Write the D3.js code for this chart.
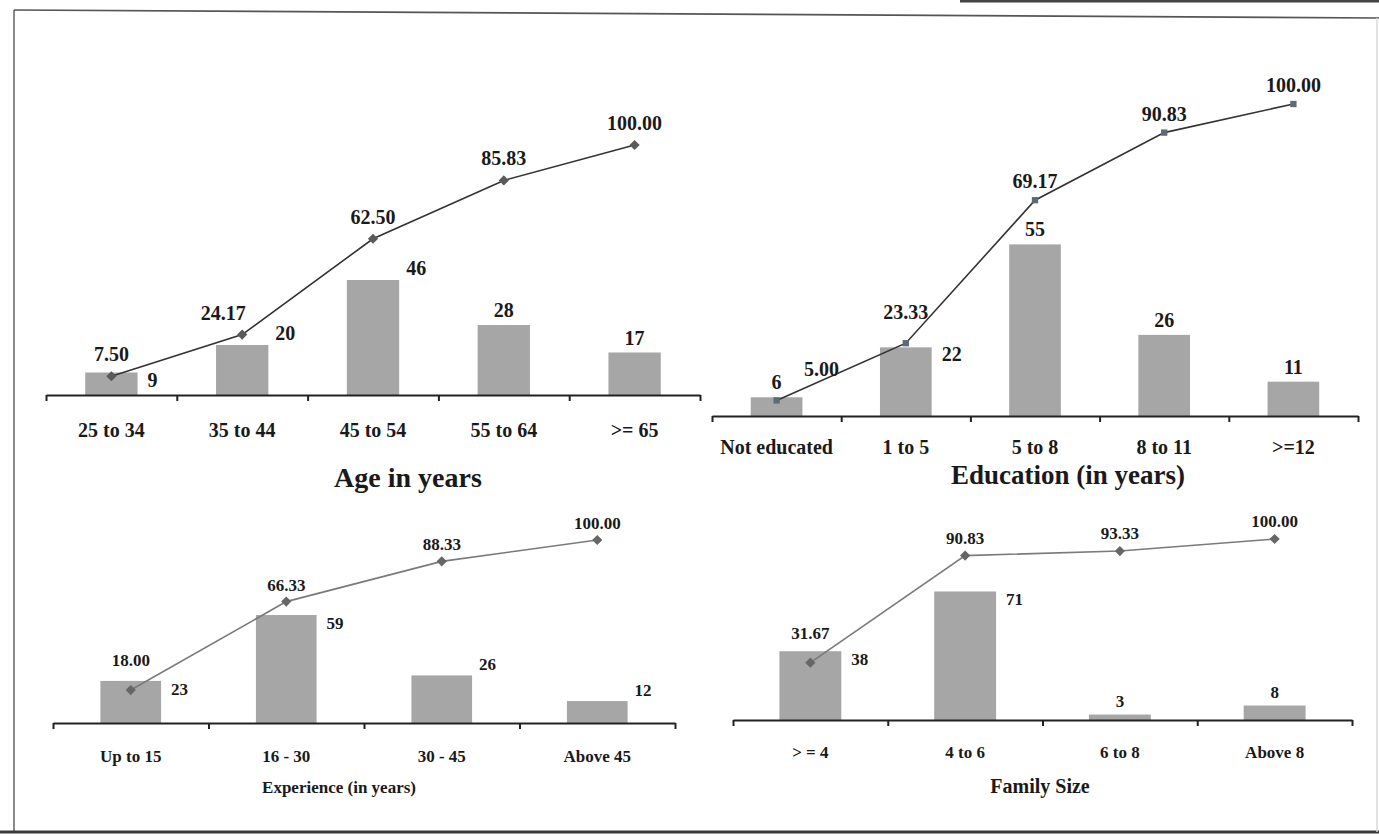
<!DOCTYPE html>
<html>
<head>
<meta charset="utf-8">
<script src="https://cdn.jsdelivr.net/npm/d3@7"></script>
<style>
  html, body { margin: 0; padding: 0; background: #ffffff; }
  svg { display: block; }
  text { font-family: "Liberation Serif", "Times New Roman", serif; font-weight: bold; fill: #1a1a1a; }
</style>
</head>
<body>
<svg id="chart" width="1379" height="837"></svg>
<script>
// ---------------- DATA ----------------
const ageCategories = ["25 to 34", "35 to 44", "45 to 54", "55 to 64", ">= 65"];
const ageCounts = [9, 20, 46, 28, 17];
const ageCumulative = [7.50, 24.17, 62.50, 85.83, 100.00];
const ageBarLabelPos = ["rightlow", "right", "right", "top", "top"];
const ageLineLabelPos = ["top", "topleft", "top", "top", "top"];

const eduCategories = ["Not educated", "1 to 5", "5 to 8", "8 to 11", ">=12"];
const eduCounts = [6, 22, 55, 26, 11];
const eduCumulative = [5.00, 23.33, 69.17, 90.83, 100.00];
const eduBarLabelPos = ["top", "rightlow", "top", "top", "top"];
const eduLineLabelPos = ["highright", "high", "top", "top", "top"];

const expCategories = ["Up to 15", "16 - 30", "30 - 45", "Above 45"];
const expCounts = [23, 59, 26, 12];
const expCumulative = [18.00, 66.33, 88.33, 100.00];
const expBarLabelPos = ["rightlow", "rightlow", "right", "right"];
const expLineLabelPos = ["high", "top", "top", "top"];

const famCategories = ["> = 4", "4 to 6", "6 to 8", "Above 8"];
const famCounts = [38, 71, 3, 8];
const famCumulative = [31.67, 90.83, 93.33, 100.00];
const famBarLabelPos = ["rightlow", "rightlow", "top", "top"];
const famLineLabelPos = ["high", "top", "top", "top"];

// ---------------- LAYOUT ----------------
const svg = d3.select("#chart");

// page frame
svg.append("line").attr("x1", 14).attr("y1", 10).attr("x2", 14).attr("y2", 832)
  .attr("stroke", "#8a8a8a").attr("stroke-width", 2);
svg.append("line").attr("x1", 14).attr("y1", 10).attr("x2", 1379).attr("y2", 18)
  .attr("stroke", "#555").attr("stroke-width", 1.6);
svg.append("line").attr("x1", 960).attr("y1", 1).attr("x2", 1379).attr("y2", 1)
  .attr("stroke", "#444").attr("stroke-width", 3);
svg.append("line").attr("x1", 0).attr("y1", 832).attr("x2", 1379).attr("y2", 832)
  .attr("stroke", "#3a3a3a").attr("stroke-width", 3);
svg.append("line").attr("x1", 1377).attr("y1", 18).attr("x2", 1377).attr("y2", 832)
  .attr("stroke", "#d8d8d8").attr("stroke-width", 1.5);

const panels = [
  { cats: ageCategories, counts: ageCounts, cum: ageCumulative, barPos: ageBarLabelPos, linePos: ageLineLabelPos,
    x0: 46, x1: 700, base: 395, top100: 145, barRatio: 0.4, fs: 20, catGap: 28, gap: 15,
    title: "Age in years", titleX: 408, titleY: 487, titleFs: 28,
    lineColor: "#333", markerColor: "#5a5a5a", marker: "diamond" },
  { cats: eduCategories, counts: eduCounts, cum: eduCumulative, barPos: eduBarLabelPos, linePos: eduLineLabelPos,
    x0: 712, x1: 1358, base: 416, top100: 104, barRatio: 0.4, fs: 20, catGap: 24, gap: 12,
    title: "Education (in years)", titleX: 1068, titleY: 484, titleFs: 27,
    lineColor: "#333", markerColor: "#5d6b78", marker: "square" },
  { cats: expCategories, counts: expCounts, cum: expCumulative, barPos: expBarLabelPos, linePos: expLineLabelPos,
    x0: 53, x1: 675, base: 723, top100: 540, barRatio: 0.39, fs: 17, catGap: 27, gap: 11,
    title: "Experience (in years)", titleX: 339, titleY: 793, titleFs: 17,
    lineColor: "#7a7a7a", markerColor: "#666", marker: "diamond" },
  { cats: famCategories, counts: famCounts, cum: famCumulative, barPos: famBarLabelPos, linePos: famLineLabelPos,
    x0: 733, x1: 1352, base: 720, top100: 539, barRatio: 0.4, fs: 17, catGap: 26, gap: 12,
    title: "Family Size", titleX: 1040, titleY: 793, titleFs: 20,
    lineColor: "#7a7a7a", markerColor: "#666", marker: "diamond" }
];

panels.forEach(p => {
  const g = svg.append("g");
  const n = p.cats.length;
  const x = d3.scaleBand().domain(p.cats).range([p.x0, p.x1]).padding(0);
  const slot = d3.scaleLinear().domain([0, n]).range([p.x0, p.x1]);
  const y = d3.scaleLinear().domain([0, 100]).range([p.base, p.top100]);
  const bw = x.bandwidth() * p.barRatio;
  const cx = c => x(c) + x.bandwidth() / 2;

  // bars
  g.selectAll("rect.bar").data(p.counts).join("rect")
    .attr("class", "bar")
    .attr("x", (d, i) => cx(p.cats[i]) - bw / 2)
    .attr("width", bw)
    .attr("y", d => y(d))
    .attr("height", d => y(0) - y(d))
    .attr("fill", "#a6a6a6");

  // axis line with boundary ticks
  const axisG = g.append("g").attr("transform", `translate(0,${p.base})`)
    .call(d3.axisBottom(slot).tickValues(d3.range(n + 1)).tickFormat("").tickSizeInner(6).tickSizeOuter(0));
  axisG.select(".domain").attr("stroke", "#222").attr("stroke-width", 2.2);
  axisG.selectAll(".tick line").attr("stroke", "#222").attr("stroke-width", 2);

  // category labels
  const labG = g.append("g").attr("transform", `translate(0,${p.base})`)
    .call(d3.axisBottom(x).tickSize(0).tickPadding(p.catGap));
  labG.select(".domain").remove();
  labG.selectAll("text")
    .style("font-family", '"Liberation Serif", "Times New Roman", serif')
    .style("font-weight", "bold")
    .style("font-size", p.fs + "px")
    .attr("fill", "#1a1a1a");

  // cumulative line
  const line = d3.line().x((d, i) => cx(p.cats[i])).y(d => y(d));
  g.append("path").datum(p.cum)
    .attr("d", line).attr("fill", "none")
    .attr("stroke", p.lineColor).attr("stroke-width", 1.6);

  const sym = p.marker === "square"
    ? d3.symbol(d3.symbolSquare, 40)
    : d3.symbol(d3.symbolSquare, 52);
  g.selectAll("path.mk").data(p.cum).join("path")
    .attr("class", "mk")
    .attr("d", sym)
    .attr("transform", (d, i) => `translate(${cx(p.cats[i])},${y(d)}) rotate(${p.marker === "square" ? 0 : 45})`)
    .attr("fill", p.markerColor);

  // line labels
  g.selectAll("text.cl").data(p.cum).join("text")
    .attr("class", "cl")
    .attr("text-anchor", "middle")
    .style("font-size", p.fs + "px")
    .attr("x", (d, i) => {
      const pos = p.linePos[i];
      const base = cx(p.cats[i]);
      if (pos === "topleft") return base - 19;
      if (pos === "highright") return base + 45;
      return base;
    })
    .attr("y", (d, i) => {
      const pos = p.linePos[i];
      if (pos === "high" || pos === "highright") return y(d) - 24;
      return y(d) - p.gap;
    })
    .text(d => d.toFixed(2));

  // bar labels
  g.selectAll("text.bl").data(p.counts).join("text")
    .attr("class", "bl")
    .style("font-size", p.fs + "px")
    .attr("text-anchor", (d, i) => p.barPos[i] === "top" ? "middle" : "start")
    .attr("x", (d, i) => {
      const pos = p.barPos[i];
      const c = cx(p.cats[i]);
      if (pos === "top") return c;
      if (pos === "rightlow") return c + bw / 2 + 10;
      return c + bw / 2 + 7;
    })
    .attr("y", (d, i) => {
      const pos = p.barPos[i];
      if (pos === "top") return y(d) - 8;
      if (pos === "rightlow") return y(d) + 14;
      return y(d) - 5;
    })
    .text(d => d);

  // title
  g.append("text")
    .attr("x", p.titleX).attr("y", p.titleY)
    .attr("text-anchor", "middle")
    .style("font-size", p.titleFs + "px")
    .text(p.title);
});
</script>
</body>
</html>
